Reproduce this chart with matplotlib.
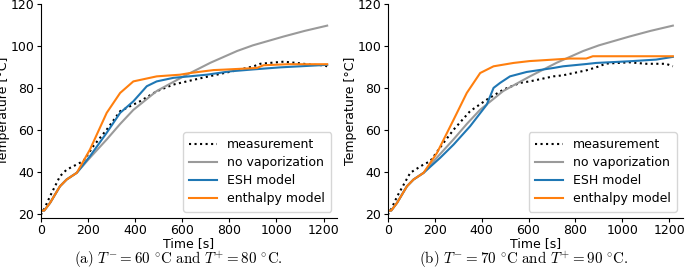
import matplotlib
matplotlib.use("Agg")
import matplotlib.pyplot as plt

plt.rcParams['mathtext.fontset'] = 'cm'

# no vaporization (same in both panels)
t_novap = [0, 15, 40, 82, 110, 153, 209, 280, 337, 393, 492, 606, 720, 833, 900, 1030, 1120, 1215]
y_novap = [21.5, 21.5, 25.2, 33.1, 36.3, 39.5, 46.7, 55.4, 62.8, 69.5, 78.5, 85.5, 92, 97.6, 100.3, 104.5, 107.2, 109.7]

# panel (a)
t_meas_a = [0, 10, 40, 82, 110, 167, 181, 223, 280, 337, 421, 492, 563, 620, 705, 832, 903, 931, 1030, 1087, 1150, 1200, 1215]
y_meas_a = [19.5, 21, 28.4, 37.9, 41, 44.3, 45, 52.2, 60.1, 68.9, 73.6, 78.4, 81.6, 83.1, 85.3, 88.4, 90.3, 91.5, 92.5, 91.9, 91, 90.8, 90.3]
t_esh_a = [0, 15, 40, 82, 110, 153, 209, 280, 337, 393, 450, 492, 563, 705, 804, 900, 1016, 1100, 1215]
y_esh_a = [21.5, 21.5, 25.2, 33.1, 36.3, 39.5, 47.4, 58.6, 68.1, 73.6, 80.8, 83.1, 84.8, 86.3, 87.9, 88.8, 89.8, 90.3, 91]
t_ent_a = [0, 15, 40, 82, 110, 153, 209, 280, 337, 393, 492, 591, 634, 733, 775, 917, 945, 1050, 1215]
y_ent_a = [21.5, 21.5, 25.2, 33.1, 36.3, 39.5, 50.6, 68.1, 77.6, 83.1, 85.5, 86.3, 87.1, 88.5, 88.7, 89.5, 90.8, 91.3, 91.3]

# panel (b)
t_meas_b = [0, 10, 41, 96, 153, 181, 238, 281, 351, 422, 493, 564, 605, 706, 747, 847, 888, 931, 1030, 1101, 1186, 1215]
y_meas_b = [19.5, 21, 28.4, 39.5, 43.5, 45, 53.8, 60.1, 68.9, 74.4, 79.2, 82.4, 83.1, 85.5, 86, 88.4, 89.8, 91.6, 92.2, 91.5, 91.5, 90.3]
t_esh_b = [0, 15, 40, 82, 110, 153, 224, 281, 351, 422, 451, 479, 521, 592, 706, 747, 847, 888, 1030, 1144, 1215]
y_esh_b = [21.5, 21.5, 25.2, 33.1, 36.3, 39.5, 46.7, 53, 61.7, 72, 80, 82.4, 85.5, 87.6, 89.5, 90.3, 91.4, 91.9, 92.7, 93.5, 94.8]
t_ent_b = [0, 15, 40, 82, 110, 153, 210, 281, 337, 394, 451, 536, 605, 635, 776, 846, 874, 1000, 1215]
y_ent_b = [21.5, 21.5, 25.2, 33.1, 36.3, 39.5, 49, 64.9, 77.6, 87.1, 90.3, 91.9, 92.8, 93, 94, 94, 95.1, 95.1, 95.1]

captions = [r'$\mathrm{(a)}\ T^{-} = 60\ {}^{\circ}\mathrm{C\ and}\ T^{+} = 80\ {}^{\circ}\mathrm{C.}$',
            r'$\mathrm{(b)}\ T^{-} = 70\ {}^{\circ}\mathrm{C\ and}\ T^{+} = 90\ {}^{\circ}\mathrm{C.}$']
caption_x = [0.26, 0.765]

fig = plt.figure(figsize=(6.85, 2.69), dpi=100)
ax1 = fig.add_axes([0.0594, 0.19, 0.433, 0.795])
ax2 = fig.add_axes([0.566, 0.19, 0.431, 0.795])

panels = [(ax1, t_meas_a, y_meas_a, t_esh_a, y_esh_a, t_ent_a, y_ent_a),
          (ax2, t_meas_b, y_meas_b, t_esh_b, y_esh_b, t_ent_b, y_ent_b)]

for i, (ax, tm, ym, te, ye, tn, yn) in enumerate(panels):
    ax.plot(tm, ym, ':', color='black', lw=1.5, label='measurement')
    ax.plot(t_novap, y_novap, color='#9a9a9a', lw=1.5, label='no vaporization')
    ax.plot(te, ye, color='#1f77b4', lw=1.5, label='ESH model')
    ax.plot(tn, yn, color='#ff7f0e', lw=1.5, label='enthalpy model')
    ax.set_xlim(0, 1258)
    ax.set_ylim(18, 120)
    ax.set_xticks([0, 200, 400, 600, 800, 1000, 1200])
    ax.set_yticks([20, 40, 60, 80, 100, 120])
    ax.tick_params(labelsize=9, length=3, pad=1.5)
    ax.spines['top'].set_visible(False)
    ax.spines['right'].set_visible(False)
    ax.set_xlabel('Time [s]', fontsize=9, labelpad=0)
    ax.set_ylabel('Temperature [°C]', fontsize=9, labelpad=0.5)
    ax.legend(loc='lower right', fontsize=9, handlelength=2.2, borderpad=0.5,
              labelspacing=0.4)
    fig.text(caption_x[i], (269 - 260) / 269, captions[i], ha='center',
             va='center', fontsize=10.8)

fig.savefig('out.png', dpi=100)
